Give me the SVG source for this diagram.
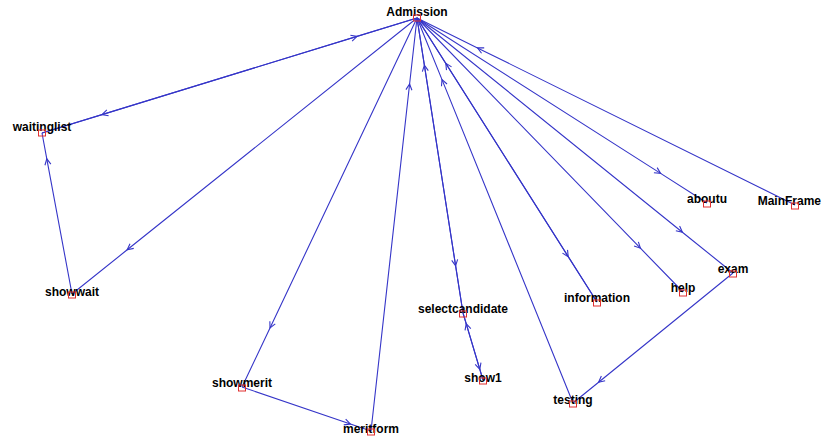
<svg xmlns="http://www.w3.org/2000/svg" width="823" height="436" viewBox="0 0 823 436">
<style>
.e{fill:none;stroke:#3535c8;stroke-width:1.1;marker-mid:url(#ah)}
.n rect{fill:none;stroke:#e03030;stroke-width:1}
.n text{font-family:"Liberation Sans",Arial,sans-serif;font-weight:bold;font-size:12px;fill:#000;text-anchor:middle}
</style>
<defs>
<marker id="ah" viewBox="-7 -4 8 8" markerWidth="8" markerHeight="8" refX="0" refY="0" orient="auto" markerUnits="userSpaceOnUse">
<path d="M-6,-3 L0,0 L-6,3" fill="none" stroke="#3535c8" stroke-width="1.1"/>
</marker>
</defs>
<rect width="823" height="436" fill="#fff"/>
<g id="connectors">
<path class="e" d="M417,18 L102,114.6 L42,133"/>
<path class="e" d="M42,133 L357,36.4 L417,18"/>
<path class="e" d="M417,18 L127.2,249.8 L72,294"/>
<path class="e" d="M72,294 L46.8,158.8 L42,133"/>
<path class="e" d="M417,18 L270,328 L242,387"/>
<path class="e" d="M242,387 L350.4,424 L371,431"/>
<path class="e" d="M371,431 L409.6,84 L417,18"/>
<path class="e" d="M417,18 L455.6,265.8 L463,313"/>
<path class="e" d="M463,313 L424.4,65.2 L417,18"/>
<path class="e" d="M463,313 L479.8,369.3 L483,380"/>
<path class="e" d="M483,380 L466.2,323.7 L463,313"/>
<path class="e" d="M573,403 L442,79.6 L417,18"/>
<path class="e" d="M417,18 L568.2,256.6 L597,302"/>
<path class="e" d="M597,302 L445.8,63.4 L417,18"/>
<path class="e" d="M417,18 L640.4,248.2 L683,292"/>
<path class="e" d="M417,18 L682.4,232.2 L733,273"/>
<path class="e" d="M733,273 L598.6,382.2 L573,403"/>
<path class="e" d="M417,18 L660.6,173.4 L707,203"/>
<path class="e" d="M795,205 L477.5,47.9 L417,18"/>
</g>
<g id="Admission" class="n"><text x="417" y="16">Admission</text><rect x="413.5" y="15" width="7" height="6"/></g>
<g id="waitinglist" class="n"><text x="42" y="131">waitinglist</text><rect x="38.5" y="130" width="7" height="6"/></g>
<g id="showwait" class="n"><text x="72" y="296">showwait</text><rect x="68.5" y="292" width="7" height="6"/></g>
<g id="showmerit" class="n"><text x="242" y="387">showmerit</text><rect x="238.5" y="385" width="7" height="6"/></g>
<g id="meritform" class="n"><text x="371" y="433">meritform</text><rect x="367.5" y="429" width="7" height="6"/></g>
<g id="selectcandidate" class="n"><text x="463" y="313">selectcandidate</text><rect x="459.5" y="311" width="7" height="6"/></g>
<g id="show1" class="n"><text x="483" y="382">show1</text><rect x="479.5" y="378" width="7" height="6"/></g>
<g id="testing" class="n"><text x="573" y="404">testing</text><rect x="569.5" y="401" width="7" height="6"/></g>
<g id="information" class="n"><text x="597" y="302">information</text><rect x="593.5" y="300" width="7" height="6"/></g>
<g id="help" class="n"><text x="683" y="292">help</text><rect x="679.5" y="290" width="7" height="6"/></g>
<g id="exam" class="n"><text x="733" y="273">exam</text><rect x="729.5" y="271" width="7" height="6"/></g>
<g id="aboutu" class="n"><text x="707" y="203">aboutu</text><rect x="703.5" y="201" width="7" height="6"/></g>
<g id="MainFrame" class="n"><text x="821" y="205" style="text-anchor:end">MainFrame</text><rect x="791.5" y="203" width="7" height="6"/></g>
</svg>
